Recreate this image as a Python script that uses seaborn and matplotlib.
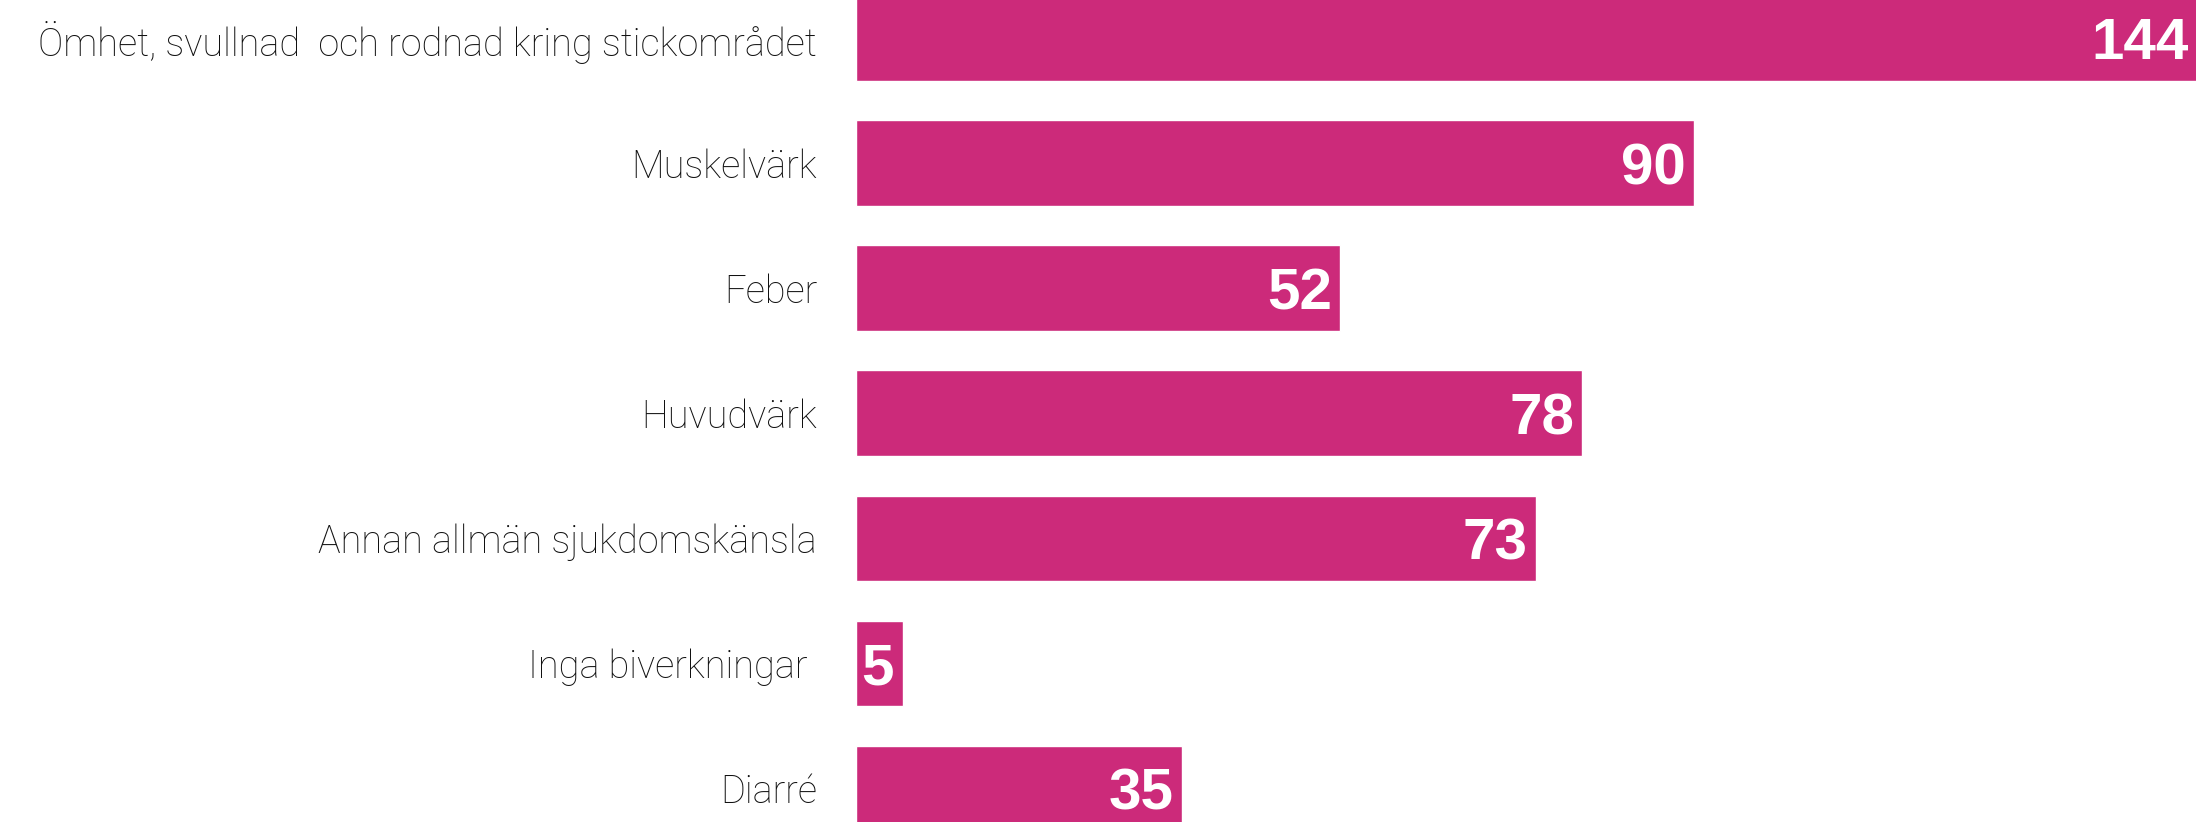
import matplotlib
matplotlib.use('Agg')
import matplotlib.pyplot as plt
import seaborn as sns
import pandas as pd

# data
categories = ['Ömhet, svullnad  och rodnad kring stickområdet', 'Muskelvärk', 'Feber',
              'Huvudvärk', 'Annan allmän sjukdomskänsla', 'Inga biverkningar ', 'Diarré']
counts = [144, 90, 52, 78, 73, 5, 35]

df = pd.DataFrame({'label': categories, 'count': counts})

sns.set_style('white')
plt.rcParams['font.family'] = ['Roboto', 'DejaVu Sans']

fig = plt.figure(figsize=(21.96, 8.22), dpi=100)
ax = fig.add_axes([856 / 2196, 0, 1 - 856 / 2196, 1])

sns.barplot(data=df, x='count', y='label', color='#CC2A7A', saturation=1,
            width=0.683, ax=ax)

ax.set_xlim(0, 143.9)
ax.set_ylim(6.27, -0.305)
ax.set_xlabel('')
ax.set_ylabel('')
ax.set_xticks([])
sns.despine(ax=ax, left=True, bottom=True)
ax.tick_params(axis='y', length=0, pad=28)
for lbl in ax.get_yticklabels():
    lbl.set_fontsize(27.3)
    lbl.set_fontweight('light')
    lbl.set_color('#111111')

# value labels inside the bar ends
for i, v in enumerate(counts):
    ax.annotate(str(v), xy=(v, i), xytext=(-6, 0), textcoords='offset points',
                ha='right', va='center_baseline', color='white',
                fontsize=42, fontweight='bold', annotation_clip=False,
                family=['Liberation Sans', 'DejaVu Sans'])

fig.savefig('out.png', dpi=100)
